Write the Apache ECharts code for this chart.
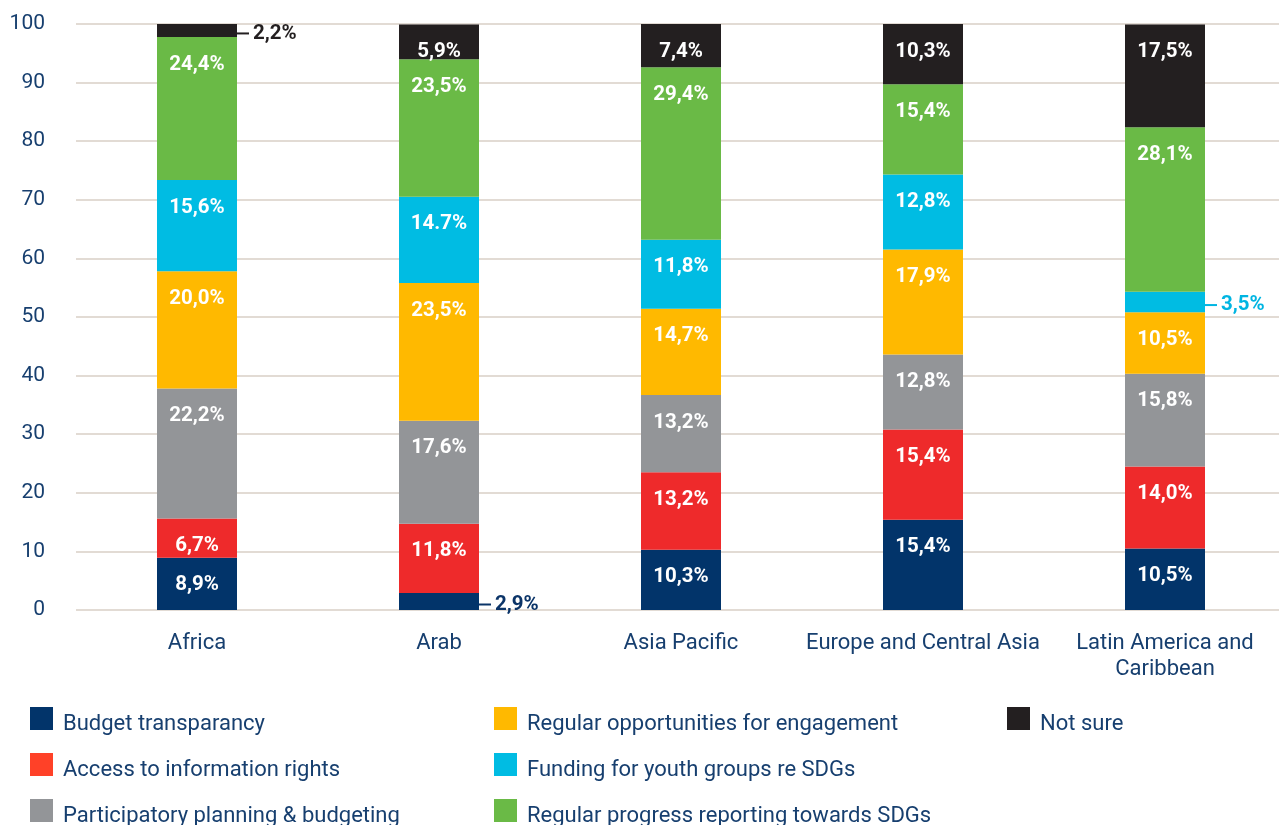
<!DOCTYPE html>
<html>
<head>
<meta charset="utf-8">
<script src="https://cdn.jsdelivr.net/npm/echarts@6/dist/echarts.min.js"></script>
<style>
  html, body { margin: 0; padding: 0; background: #fff; }
  #chart { width: 1279px; height: 825px; }
</style>
</head>
<body>
<div id="chart"></div>
<script>
const categories = ['Africa', 'Arab', 'Asia Pacific', 'Europe and Central Asia', 'Latin America and\nCaribbean'];
const seriesNames = [
  'Budget transparancy',
  'Access to information rights',
  'Participatory planning & budgeting',
  'Regular opportunities for engagement',
  'Funding for youth groups re SDGs',
  'Regular progress reporting towards SDGs',
  'Not sure'
];
const budgetTransparancy = [8.9, 2.9, 10.3, 15.4, 10.5];
const accessToInformation = [6.7, 11.8, 13.2, 15.4, 14.0];
const participatoryPlanning = [22.2, 17.6, 13.2, 12.8, 15.8];
const regularOpportunities = [20.0, 23.5, 14.7, 17.9, 10.5];
const fundingYouthGroups = [15.6, 14.7, 11.8, 12.8, 3.5];
const progressReporting = [24.4, 23.5, 29.4, 15.4, 28.1];
const notSure = [2.2, 5.9, 7.4, 10.3, 17.5];
const yTicks = [0, 10, 20, 30, 40, 50, 60, 70, 80, 90, 100];

const allValues = [budgetTransparancy, accessToInformation, participatoryPlanning,
  regularOpportunities, fundingYouthGroups, progressReporting, notSure];
const colors = ['#02346a', '#ee2a2b', '#939598', '#ffb900', '#00bce3', '#6aba46', '#231f20'];
const legendColors = ['#02346a', '#ff4128', '#939598', '#ffb900', '#00bce3', '#6aba46', '#231f20'];
const textColor = '#173f6f';

// labels drawn beside the bar: [series, category, colour]
const outsideLabels = [[6, 0, '#231f20'], [0, 1, '#0b3468'], [4, 4, '#00b5e2']];
// the source writes this one with a dot
const dotLabels = [[4, 1]];

const fmt = (v, useDot) => (useDot ? v.toFixed(1) : v.toFixed(1).replace('.', ',')) + '%';

const chart = echarts.init(document.getElementById('chart'));

const series = allValues.map((vals, si) => ({
  name: seriesNames[si],
  type: 'bar',
  stack: 'total',
  barWidth: 80,
  itemStyle: { color: colors[si] },
  label: {
    show: true,
    position: 'insideTop',
    distance: 17,
    color: '#fff',
    fontFamily: 'Roboto',
    fontWeight: 'bold',
    fontSize: 20.5
  },
  data: vals.map((v, ci) => {
    const useDot = dotLabels.some(d => d[0] === si && d[1] === ci);
    const out = outsideLabels.find(o => o[0] === si && o[1] === ci);
    const item = { value: v, label: { formatter: fmt(v, useDot) } };
    if (out) {
      item.label = {
        formatter: '{ln|}{t|' + fmt(v, useDot) + '}',
        position: 'right',
        distance: 0,
        offset: [0, 3],
        rich: {
          ln: { width: 12, height: 2, backgroundColor: out[2] },
          t: { color: out[2], fontWeight: 'bold', fontSize: 20.5, fontFamily: 'Roboto', padding: [0, 0, 0, 4] }
        }
      };
    }
    return item;
  })
}));

// square swatch sitting in the top of a taller box, so the text lines up a bit lower
const swatch = 'path://M0,0H23V23H0Z M0,35L0.001,35Z';

const legendCol = (names, left) => ({
  orient: 'vertical',
  left: left,
  top: 707,
  height: 300,
  padding: 0,
  itemWidth: 23,
  itemHeight: 35,
  itemGap: 11,
  icon: swatch,
  selectedMode: false,
  textStyle: { color: textColor, fontSize: 22, fontFamily: 'Roboto', padding: [0, 0, 0, 5] },
  data: names.map(n => ({ name: n, itemStyle: { color: legendColors[seriesNames.indexOf(n)] } }))
});

const option = {
  animation: false,
  textStyle: { fontFamily: 'Roboto' },
  grid: { left: 76, top: 24, right: -7, bottom: 215, outerBoundsMode: 'none', containLabel: false },
  legend: [
    legendCol(seriesNames.slice(0, 3), 30),
    legendCol(seriesNames.slice(3, 6), 494),
    legendCol(seriesNames.slice(6), 1007)
  ],
  xAxis: {
    type: 'category',
    data: categories,
    axisLine: { show: false },
    axisTick: { show: false },
    axisLabel: { interval: 0, color: textColor, fontSize: 22, margin: 20, lineHeight: 26, fontFamily: 'Roboto' }
  },
  yAxis: {
    type: 'value',
    min: yTicks[0],
    max: yTicks[yTicks.length - 1],
    interval: 10,
    axisLine: { show: false },
    axisTick: { show: false },
    axisLabel: { color: textColor, fontSize: 21, margin: 31, fontFamily: 'Roboto' },
    splitLine: { lineStyle: { color: '#d8cfc6', width: 1.5 } }
  },
  series: series
};

chart.setOption(option);
window.addEventListener('resize', () => chart.resize());
</script>
</body>
</html>
